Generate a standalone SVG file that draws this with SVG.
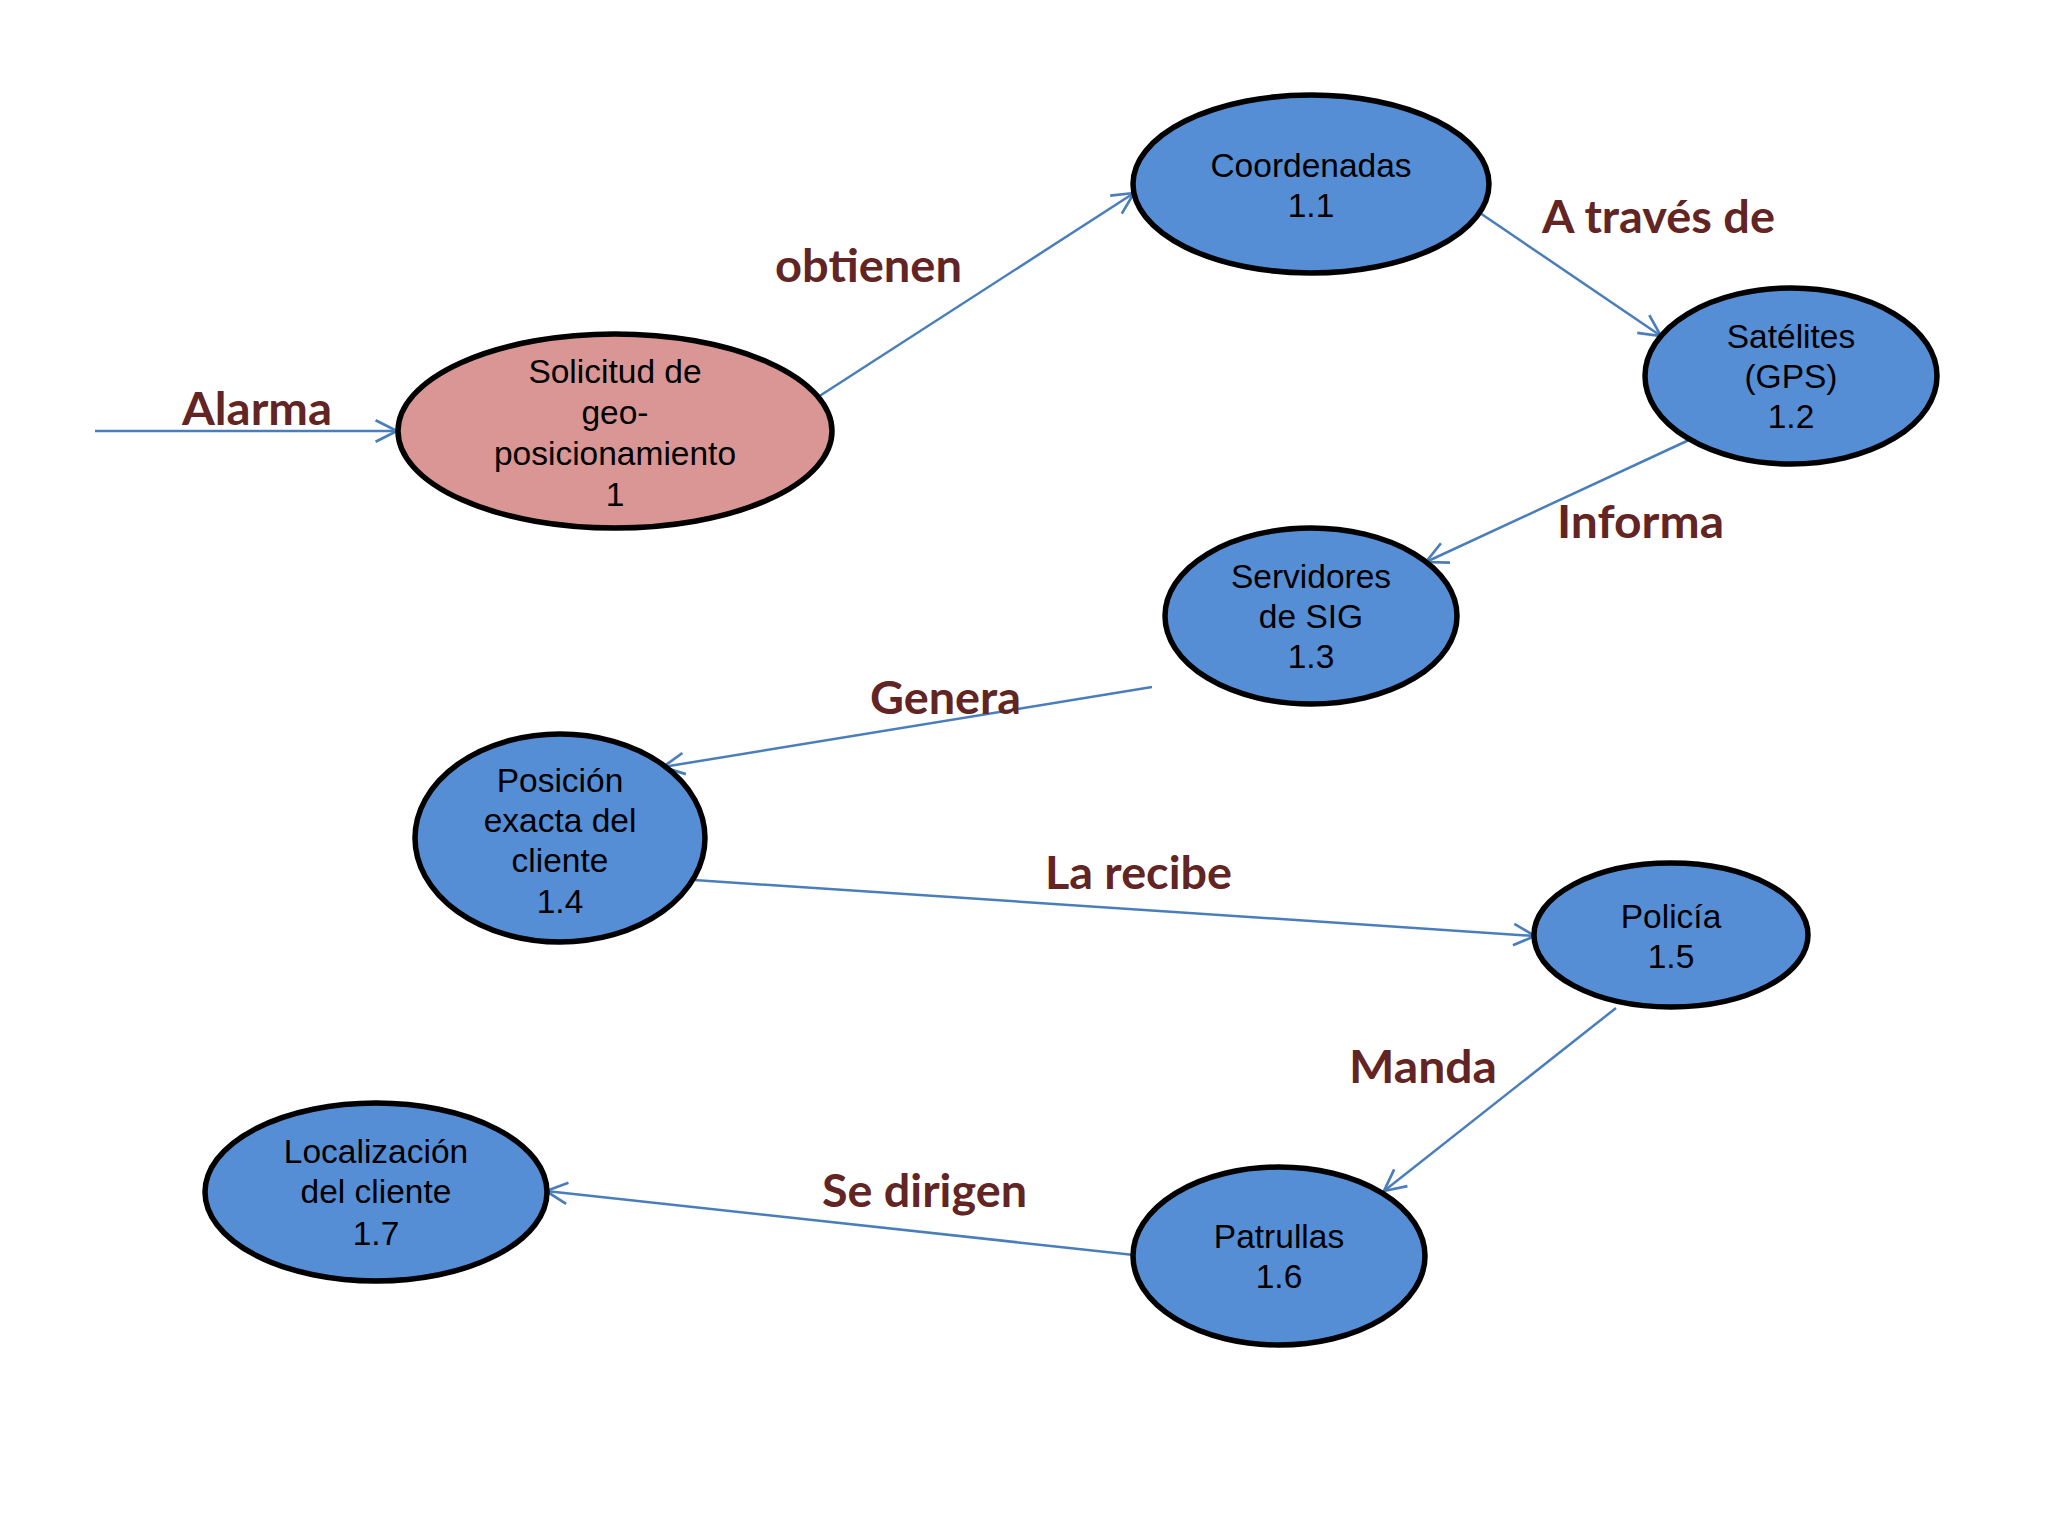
<svg xmlns="http://www.w3.org/2000/svg" width="2048" height="1536" viewBox="0 0 2048 1536">
<defs>
<style>
.node{stroke:#000;stroke-width:5.5}
.blue{fill:#558ED5}
.pink{fill:#D99694}
.nt{font-family:"Liberation Sans",Arial,sans-serif;font-size:33.5px;fill:#000;text-anchor:middle}
.lbl{font-family:Lato,"Open Sans",sans-serif;font-weight:bold;font-size:46px;fill:#632523}
.edge{stroke:#4A7EBB;stroke-width:2.5;fill:none;marker-end:url(#arr)}
</style>
<marker id="arr" markerUnits="userSpaceOnUse" markerWidth="30" markerHeight="30" viewBox="-24 -14 28 28" refX="0" refY="0" orient="auto">
<path d="M-20,-10 L0,0 L-20,10" fill="none" stroke="#4A7EBB" stroke-width="2.5"/>
</marker>
</defs>
<rect width="2048" height="1536" fill="#fff"/>
<g id="connectors">
<line class="edge" x1="95" y1="431" x2="397" y2="431"/>
<line class="edge" x1="818" y1="397" x2="1134" y2="193"/>
<line class="edge" x1="1480" y1="213" x2="1661" y2="336"/>
<line class="edge" x1="1689" y1="440" x2="1426" y2="562"/>
<line class="edge" x1="1152" y1="687" x2="663" y2="767"/>
<line class="edge" x1="694" y1="880" x2="1535" y2="936"/>
<line class="edge" x1="1616" y1="1008" x2="1384" y2="1191"/>
<line class="edge" x1="1134" y1="1255" x2="546" y2="1191"/>
</g>
<g id="labels">
<text class="lbl" x="182" y="425" textLength="150" lengthAdjust="spacingAndGlyphs">Alarma</text>
<text class="lbl" x="775" y="282" textLength="187" lengthAdjust="spacingAndGlyphs">obtienen</text>
<text class="lbl" x="1542" y="233" textLength="233" lengthAdjust="spacingAndGlyphs">A través de</text>
<text class="lbl" x="1557" y="538" textLength="167" lengthAdjust="spacingAndGlyphs">Informa</text>
<text class="lbl" x="870" y="714" textLength="151" lengthAdjust="spacingAndGlyphs">Genera</text>
<text class="lbl" x="1045" y="889" textLength="187" lengthAdjust="spacingAndGlyphs">La recibe</text>
<text class="lbl" x="1349" y="1083" textLength="148" lengthAdjust="spacingAndGlyphs">Manda</text>
<text class="lbl" x="822" y="1207" textLength="205" lengthAdjust="spacingAndGlyphs">Se dirigen</text>
</g>
<g id="n1">
<ellipse class="node pink" cx="615" cy="431" rx="217" ry="97"/>
<text class="nt" x="615" y="383">Solicitud de</text>
<text class="nt" x="615" y="424">geo-</text>
<text class="nt" x="615" y="465">posicionamiento</text>
<text class="nt" x="615" y="506">1</text>
</g>
<g id="n1_1">
<ellipse class="node blue" cx="1311" cy="184" rx="178" ry="89"/>
<text class="nt" x="1311" y="177">Coordenadas</text>
<text class="nt" x="1311" y="217">1.1</text>
</g>
<g id="n1_2">
<ellipse class="node blue" cx="1791" cy="376" rx="146" ry="88"/>
<text class="nt" x="1791" y="348">Satélites</text>
<text class="nt" x="1791" y="388">(GPS)</text>
<text class="nt" x="1791" y="428">1.2</text>
</g>
<g id="n1_3">
<ellipse class="node blue" cx="1311" cy="616" rx="146" ry="88"/>
<text class="nt" x="1311" y="588">Servidores</text>
<text class="nt" x="1311" y="628">de SIG</text>
<text class="nt" x="1311" y="668">1.3</text>
</g>
<g id="n1_4">
<ellipse class="node blue" cx="560" cy="838" rx="145" ry="104"/>
<text class="nt" x="560" y="792">Posición</text>
<text class="nt" x="560" y="832">exacta del</text>
<text class="nt" x="560" y="872">cliente</text>
<text class="nt" x="560" y="913">1.4</text>
</g>
<g id="n1_5">
<ellipse class="node blue" cx="1671" cy="935" rx="137" ry="72"/>
<text class="nt" x="1671" y="928">Policía</text>
<text class="nt" x="1671" y="968">1.5</text>
</g>
<g id="n1_6">
<ellipse class="node blue" cx="1279" cy="1256" rx="146" ry="89"/>
<text class="nt" x="1279" y="1248">Patrullas</text>
<text class="nt" x="1279" y="1288">1.6</text>
</g>
<g id="n1_7">
<ellipse class="node blue" cx="376" cy="1192" rx="171" ry="89"/>
<text class="nt" x="376" y="1163">Localización</text>
<text class="nt" x="376" y="1203">del cliente</text>
<text class="nt" x="376" y="1245">1.7</text>
</g>
</svg>
